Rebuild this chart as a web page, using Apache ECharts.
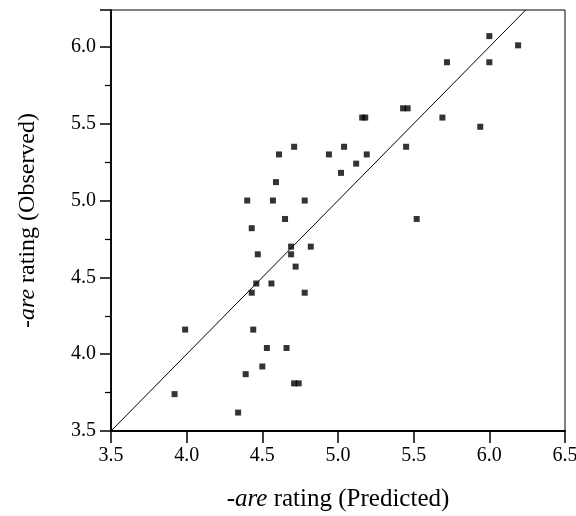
<!DOCTYPE html>
<html>
<head>
<meta charset="utf-8">
<script src="https://cdn.jsdelivr.net/npm/echarts@6/dist/echarts.min.js"></script>
<style>
  html, body { margin: 0; padding: 0; background: #fff; }
  #main { width: 576px; height: 516px; }
</style>
</head>
<body>
<div id="main"></div>
<script>
// predicted (x) and observed (y) ratings
var predicted = [
  4.71, 4.61, 4.94, 5.04, 5.02, 4.59, 4.40, 4.57, 4.78, 4.65,
  5.19, 5.12, 5.16, 5.18, 5.43, 5.46, 5.69, 5.45, 5.52, 6.00,
  6.19, 5.72, 6.00, 5.94,
  4.43, 4.69, 4.82, 4.47, 4.69, 4.72, 4.46, 4.56, 4.43, 4.78,
  3.99, 4.44, 4.53, 4.66, 4.50, 4.39, 4.71, 4.74, 3.92, 4.34
];
var observed = [
  5.35, 5.30, 5.30, 5.35, 5.18, 5.12, 5.00, 5.00, 5.00, 4.88,
  5.30, 5.24, 5.54, 5.54, 5.60, 5.60, 5.54, 5.35, 4.88, 6.07,
  6.01, 5.90, 5.90, 5.48,
  4.82, 4.70, 4.70, 4.65, 4.65, 4.57, 4.46, 4.46, 4.40, 4.40,
  4.16, 4.16, 4.04, 4.04, 3.92, 3.87, 3.81, 3.81, 3.74, 3.62
];
var xTicks = [3.5, 4.0, 4.5, 5.0, 5.5, 6.0, 6.5];
var yTicks = [3.5, 4.0, 4.5, 5.0, 5.5, 6.0];
var identityLine = [3.5, 6.24];   // y = x

var points = predicted.map(function (x, i) { return [x, observed[i]]; });
var lineData = identityLine.map(function (v) { return [v, v]; });

var font = '"Liberation Serif", "DejaVu Serif", serif';

var myChart = echarts.init(document.getElementById('main'));
var option = {
  backgroundColor: '#fff',
  animation: false,
  grid: {
    left: 111, right: 11, top: 10, bottom: 85,
    outerBoundsMode: 'none',
    show: true, borderColor: '#000', borderWidth: 1
  },
  xAxis: {
    type: 'value',
    min: xTicks[0], max: xTicks[xTicks.length - 1], interval: 0.5,
    splitLine: { show: false },
    axisLine: { lineStyle: { color: '#000', width: 1.8 } },
    axisTick: { length: 12, lineStyle: { color: '#000', width: 1.5 } },
    axisLabel: {
      color: '#000', fontFamily: font, fontSize: 20, margin: 15,
      formatter: function (v) { return v.toFixed(1); }
    },
    name: '{i|-are} rating (Predicted)',
    nameLocation: 'middle', nameGap: 56,
    nameTextStyle: {
      color: '#000', fontFamily: font, fontSize: 25,
      rich: { i: { fontStyle: 'italic', fontFamily: font, fontSize: 25, color: '#000' } }
    }
  },
  yAxis: {
    type: 'value',
    min: yTicks[0], max: identityLine[1], interval: 0.5,
    splitLine: { show: false },
    axisLine: { lineStyle: { color: '#000', width: 1.8 } },
    axisTick: { length: 11, lineStyle: { color: '#000', width: 1.5 } },
    minorTick: { show: true, splitNumber: 2, length: 6, lineStyle: { color: '#000', width: 1.2 } },
    axisLabel: {
      color: '#000', fontFamily: font, fontSize: 20, margin: 15,
      showMaxLabel: false,
      formatter: function (v) { return yTicks.indexOf(v) >= 0 ? v.toFixed(1) : ''; }
    },
    name: '{i|-are} rating (Observed)',
    nameLocation: 'middle', nameGap: 71, nameRotate: 90,
    nameTextStyle: {
      color: '#000', fontFamily: font, fontSize: 24,
      rich: { i: { fontStyle: 'italic', fontFamily: font, fontSize: 24, color: '#000' } }
    }
  },
  series: [
    {
      type: 'line',
      data: lineData,
      symbol: 'none',
      silent: true,
      lineStyle: { color: '#000', width: 1 }
    },
    {
      type: 'scatter',
      data: points,
      symbol: 'rect',
      symbolSize: 6,
      itemStyle: { color: '#000' }
    }
  ]
};
myChart.setOption(option);
</script>
</body>
</html>
